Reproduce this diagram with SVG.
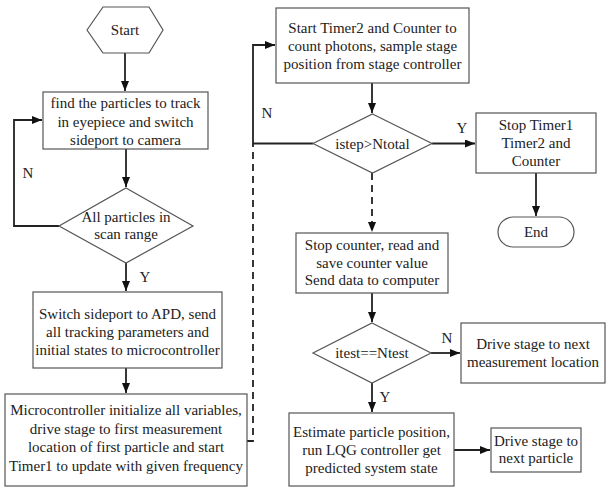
<svg xmlns="http://www.w3.org/2000/svg" width="606" height="487" viewBox="0 0 606 487">
<style>
.s{fill:#fff;stroke:#555;stroke-width:1.2}
.t{font-family:"Liberation Serif","Times New Roman",serif;font-size:15px;fill:#222;text-anchor:middle}
.c{fill:none;stroke:#222;stroke-width:1.8}
.d{stroke-dasharray:7,5}
</style>
<defs>
<marker id="a" markerWidth="10" markerHeight="8" refX="10" refY="4" orient="auto" markerUnits="userSpaceOnUse">
<path d="M0,0 L10,4 L0,8 Z" fill="#111"/>
</marker>
</defs>
<rect width="606" height="487" fill="#fff"/>
<g id="connectors">
<path class="c" d="M125,53 V91" marker-end="url(#a)"/>
<path class="c" d="M126,149 V187" marker-end="url(#a)"/>
<path class="c" d="M59,226 H14 V120 H42" marker-end="url(#a)"/>
<path class="c" d="M126,263 V291" marker-end="url(#a)"/>
<path class="c" d="M126,368 V393" marker-end="url(#a)"/>
<path class="c d" d="M247,441 H253 V144"/>
<path class="c" d="M313,143.5 H253 V45 H275" marker-end="url(#a)"/>
<path class="c" d="M372,83 V113" marker-end="url(#a)"/>
<path class="c" d="M432,143.5 H475" marker-end="url(#a)"/>
<path class="c" d="M536,173 V216" marker-end="url(#a)"/>
<path class="c d" d="M372,173 V232" marker-end="url(#a)"/>
<path class="c" d="M372,293 V322" marker-end="url(#a)"/>
<path class="c" d="M431,353 H460" marker-end="url(#a)"/>
<path class="c" d="M372,383 V412" marker-end="url(#a)"/>
<path class="c" d="M454,450 H490" marker-end="url(#a)"/>
</g>
<g id="labels">
<text class="t" x="28" y="178">N</text>
<text class="t" x="145" y="282">Y</text>
<text class="t" x="267" y="118">N</text>
<text class="t" x="462" y="133">Y</text>
<text class="t" x="447" y="343">N</text>
<text class="t" x="385" y="402">Y</text>
</g>
<g id="start">
<polygon class="s" points="87,30 103,7 149,7 163,30 149,53 103,53"/>
<text class="t" x="125" y="35">Start</text>
</g>
<g id="find">
<rect class="s" x="43" y="92" width="165" height="57"/>
<text class="t" x="125.5" y="108">find the particles to track</text>
<text class="t" x="125.5" y="127">in eyepiece and switch</text>
<text class="t" x="125.5" y="145">sideport to camera</text>
</g>
<g id="allparticles">
<polygon class="s" points="126,188 193,226 126,263 59,226"/>
<text class="t" x="126" y="222">All particles in</text>
<text class="t" x="126" y="239">scan range</text>
</g>
<g id="switch">
<rect class="s" x="33" y="292" width="189" height="76"/>
<text class="t" x="127.5" y="319">Switch sideport to APD, send</text>
<text class="t" x="127.5" y="337">all tracking parameters and</text>
<text class="t" x="127.5" y="355">initial states to microcontroller</text>
</g>
<g id="init">
<rect class="s" x="5" y="394" width="242" height="92"/>
<text class="t" x="126" y="415">Microcontroller initialize all variables,</text>
<text class="t" x="126" y="434">drive stage to first measurement</text>
<text class="t" x="126" y="452">location of first particle and start</text>
<text class="t" x="126" y="471">Timer1 to update with given frequency</text>
</g>
<g id="timer2">
<rect class="s" x="276" y="8" width="193" height="75"/>
<text class="t" x="372.5" y="33">Start Timer2 and Counter to</text>
<text class="t" x="372.5" y="51">count photons, sample stage</text>
<text class="t" x="372.5" y="69">position from stage controller</text>
</g>
<g id="istep">
<polygon class="s" points="372.5,114 432,143.5 372.5,173 313,143.5"/>
<text class="t" x="372.5" y="148.5">istep&gt;Ntotal</text>
</g>
<g id="stop">
<rect class="s" x="476" y="113" width="120" height="60"/>
<text class="t" x="536" y="130">Stop Timer1</text>
<text class="t" x="536" y="148">Timer2 and</text>
<text class="t" x="536" y="166">Counter</text>
</g>
<g id="end">
<rect class="s" x="498" y="217" width="76" height="30" rx="15" ry="15"/>
<text class="t" x="536" y="237">End</text>
</g>
<g id="readcounter">
<rect class="s" x="296" y="233" width="152" height="60"/>
<text class="t" x="372" y="250">Stop counter, read and</text>
<text class="t" x="372" y="268">save counter value</text>
<text class="t" x="372" y="285">Send data to computer</text>
</g>
<g id="itest">
<polygon class="s" points="372,323 431,353 372,383 313,353"/>
<text class="t" x="372" y="358">itest==Ntest</text>
</g>
<g id="nextloc">
<rect class="s" x="461" y="323" width="144" height="60"/>
<text class="t" x="533" y="349">Drive stage to next</text>
<text class="t" x="533" y="367">measurement location</text>
</g>
<g id="estimate">
<rect class="s" x="289" y="413" width="165" height="73"/>
<text class="t" x="371.5" y="437">Estimate particle position,</text>
<text class="t" x="371.5" y="455">run LQG controller get</text>
<text class="t" x="371.5" y="473">predicted system state</text>
</g>
<g id="nextparticle">
<rect class="s" x="491" y="428" width="90" height="44"/>
<text class="t" x="536" y="446">Drive stage to</text>
<text class="t" x="536" y="463">next particle</text>
</g>
</svg>
